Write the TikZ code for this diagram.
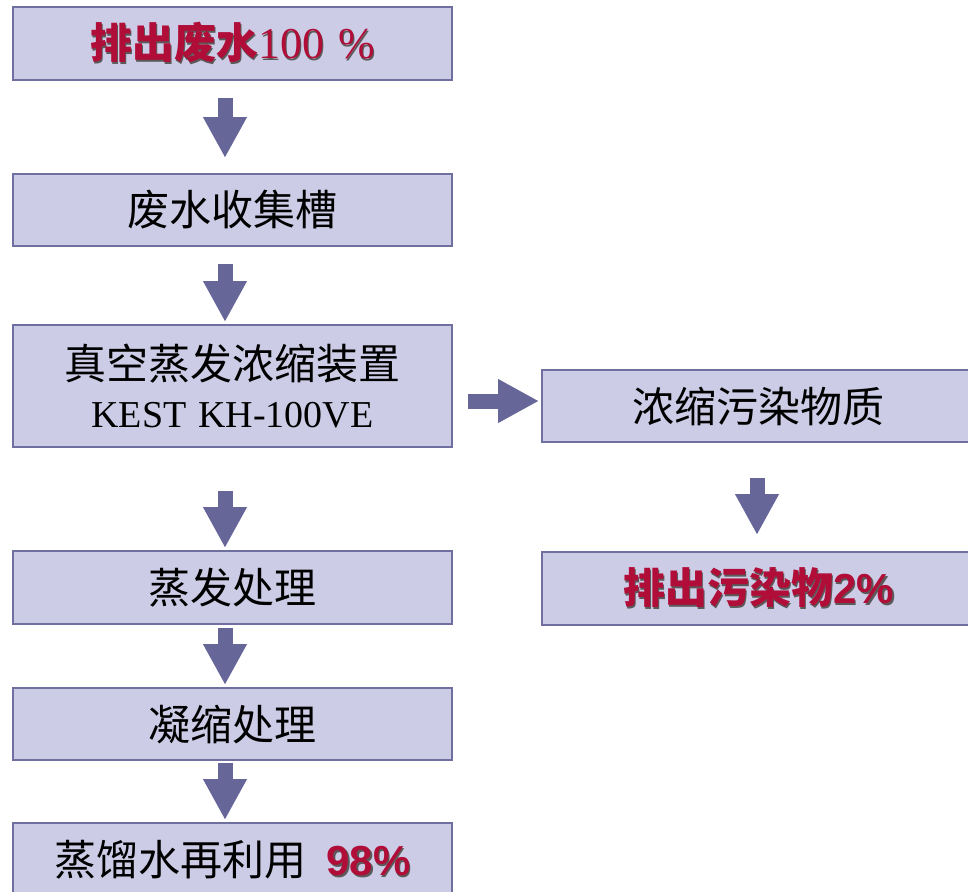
\documentclass[tikz,border=0pt]{standalone}
\usepackage{fontspec}
\setmainfont{Liberation Serif}
\newfontfamily\cjk{Noto Sans CJK SC}
\newfontfamily\lsans{Liberation Sans}
\usetikzlibrary{arrows.meta,calc}
\definecolor{boxfill}{RGB}{204,204,230}
\definecolor{boxline}{RGB}{112,112,160}
\definecolor{arrowc}{RGB}{102,102,153}
\definecolor{redc}{RGB}{176,14,56}
\definecolor{shadc}{RGB}{90,90,90}
\newcommand\shtext[1]{\leavevmode\rlap{\kern1.8pt\raisebox{-1.8pt}{\color{shadc}#1}}{\color{redc}#1}}
\tikzset{
  flowbox/.style={draw=boxline, line width=2pt, fill=boxfill, minimum height=73pt,
    inner sep=0pt, align=center, font=\cjk\fontsize{42}{52}\selectfont},
  blockarrow/.style={draw=arrowc, line width=15pt, -{Triangle[width=41pt,length=41pt]}, fill=arrowc}
}
\begin{document}
\begin{tikzpicture}[x=1pt,y=-1pt]
\useasboundingbox (0,0) rectangle (968,891);
\clip (0,0) rectangle (968,891);
\node[flowbox, minimum width=439pt] (b1) at (232.5,43.5)
  {\shtext{\bfseries 排出废水{\rmfamily\mdseries\fontsize{44}{52}\selectfont 100\hspace{14pt}\%}}};
\node[flowbox, minimum width=439pt, minimum height=72pt] (b2) at (232.5,210) {废水收集槽};
\node[flowbox, minimum width=439pt, minimum height=122pt] (b3) at (232.5,386)
  {真空蒸发浓缩装置\\[-4pt]{\rmfamily\fontsize{38}{44}\selectfont KEST\hspace{12pt}KH-100VE}};
\node[flowbox, minimum width=433pt, minimum height=72pt] (b4) at (758.5,406) {浓缩污染物质};
\node[flowbox, minimum width=433pt] (b5) at (758.5,588.5)
  {\shtext{\bfseries 排出污染物{\lsans 2\%}}};
\node[flowbox, minimum width=439pt] (b6) at (232.5,587.5) {蒸发处理};
\node[flowbox, minimum width=439pt, minimum height=72pt] (b7) at (232.5,724) {凝缩处理};
\node[flowbox, minimum width=439pt] (b8) at (232.5,859.5)
  {蒸馏水再利用\hspace{20pt}\shtext{\lsans\bfseries 98\%}};
\draw[blockarrow] ($(b1.south)+(-7.5,17)$) -- ($(b2.north)+(-7.5,-15)$);
\draw[blockarrow] ($(b2.south)+(-7.5,17)$) -- ($(b3.north)+(-7.5,-2)$);
\draw[blockarrow] ($(b3.south)+(-7.5,43)$) -- ($(b6.north)+(-7.5,-2)$);
\draw[blockarrow] ($(b6.south)+(-7.5,3)$) -- ($(b7.north)+(-7.5,-2)$);
\draw[blockarrow] ($(b7.south)+(-7.5,2)$) -- ($(b8.north)+(-7.5,-2)$);
\draw[blockarrow] ($(b4.south)+(-1.5,35)$) -- ($(b5.north)+(-1.5,-16)$);
\draw[blockarrow] ($(b3.east)+(15,15)$) -- ($(b4.west)+(-2,-5)$);
\end{tikzpicture}
\end{document}
